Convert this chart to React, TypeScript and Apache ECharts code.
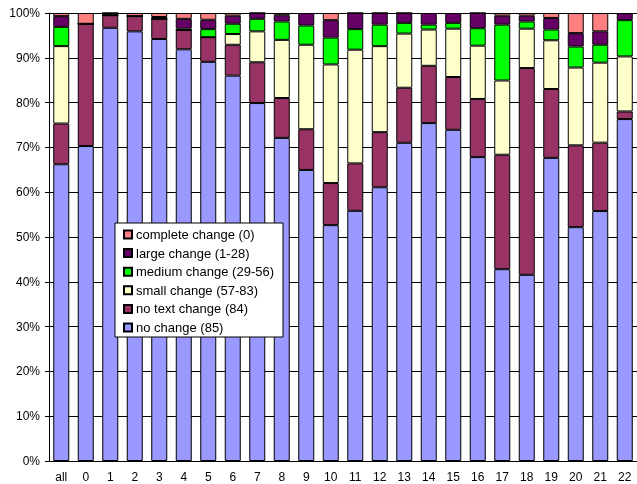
import React, { useEffect, useRef } from "react";
import * as echarts from "echarts";

const categories = ["all", "0", "1", "2", "3", "4", "5", "6", "7", "8", "9", "10", "11", "12", "13", "14", "15", "16", "17", "18", "19", "20", "21", "22"];
const seriesNames = ["no change (85)", "no text change (84)", "small change (57-83)", "medium change (29-56)", "large change (1-28)", "complete change (0)"];
const seriesColors = ["#9999FF", "#993366", "#FFFFCC", "#00FF00", "#660066", "#FF8080"];

const noChange = [66.3, 70.3, 96.7, 95.9, 94.3, 91.9, 89.1, 86.1, 79.9, 72.2, 65.1, 52.7, 55.9, 61.1, 71.1, 75.5, 74.0, 67.9, 42.9, 41.6, 67.8, 52.3, 55.9, 76.4];
const noTextChange = [9.1, 27.3, 2.8, 3.4, 4.5, 4.3, 5.5, 6.9, 9.1, 8.9, 9.1, 9.4, 10.6, 12.3, 12.3, 12.8, 11.8, 13.0, 25.6, 46.2, 15.4, 18.3, 15.3, 1.7];
const smallChange = [17.3, 0, 0, 0, 0, 0, 0, 2.4, 6.9, 13.0, 18.9, 26.5, 25.4, 19.2, 12.1, 8.1, 10.8, 11.9, 16.6, 8.8, 10.9, 17.4, 17.9, 12.3];
const mediumChange = [4.3, 0, 0, 0, 0, 0.3, 1.8, 2.3, 2.8, 4.1, 4.3, 6.0, 4.6, 4.8, 2.4, 1.1, 1.3, 3.9, 12.5, 1.6, 2.4, 4.7, 4.0, 8.1];
const largeChange = [2.4, 0, 0.5, 0, 0.4, 2.2, 2.1, 1.8, 1.3, 1.4, 2.8, 3.9, 3.6, 2.6, 2.2, 2.6, 2.2, 3.4, 2.0, 1.3, 2.6, 3.0, 3.0, 1.6];
const completeChange = [0.7, 2.4, 0, 0.7, 0.9, 1.3, 1.5, 0.6, 0, 0.5, 0, 1.6, 0, 0, 0, 0, 0, 0, 0.6, 0.6, 1.1, 4.5, 4.1, 0];

const FONT = "'Liberation Sans', Arial, sans-serif";

export default function App() {
  const ref = useRef<HTMLDivElement>(null);
  useEffect(() => {
    if (!ref.current) return;
    const chart = echarts.init(ref.current, undefined, { renderer: "svg" });
    const raw = [noChange, noTextChange, smallChange, mediumChange, largeChange, completeChange];
    const totals = categories.map((_, i) => raw.reduce((s, arr) => s + arr[i], 0));
    const series = raw.map((arr, k) => ({
      name: seriesNames[k],
      type: "bar",
      stack: "total",
      barWidth: 16,
      data: arr.map((v, i) => (v / totals[i]) * 100),
      itemStyle: { color: seriesColors[k], borderColor: "#000", borderWidth: 1 },
    }));
    chart.setOption({
      animation: false,
      textStyle: { fontFamily: FONT },
      grid: { left: 49, right: 0, top: 13, bottom: 23 },
      legend: {
        data: [...seriesNames].reverse(),
        orient: "vertical",
        left: 115,
        top: 223,
        backgroundColor: "#fff",
        borderColor: "#000",
        borderWidth: 1,
        padding: [5, 9, 3, 8],
        itemWidth: 8,
        itemHeight: 8,
        itemGap: 5.6,
        icon: "rect",
        textStyle: { fontFamily: FONT, fontSize: 13, color: "#000", padding: [0, 0, 0, -1] },
      },
      xAxis: {
        type: "category",
        data: categories,
        axisLine: { lineStyle: { color: "#000", width: 1 } },
        axisTick: { length: 4, lineStyle: { color: "#000" } },
        axisLabel: { color: "#000", fontSize: 12, margin: 10, fontFamily: FONT, interval: 0 },
      },
      yAxis: {
        type: "value",
        min: 0,
        max: 100,
        interval: 10,
        axisLine: { show: true, lineStyle: { color: "#000", width: 1 } },
        axisTick: { show: true, length: 4, lineStyle: { color: "#000" } },
        axisLabel: { color: "#000", fontSize: 12, margin: 9, formatter: "{value}%", fontFamily: FONT },
        splitLine: { lineStyle: { color: "#000", width: 1 } },
      },
      series,
    });
    return () => chart.dispose();
  }, []);
  return <div ref={ref} style={{ position: "fixed", left: 0, top: 0, width: 637, height: 484 }} />;
}
